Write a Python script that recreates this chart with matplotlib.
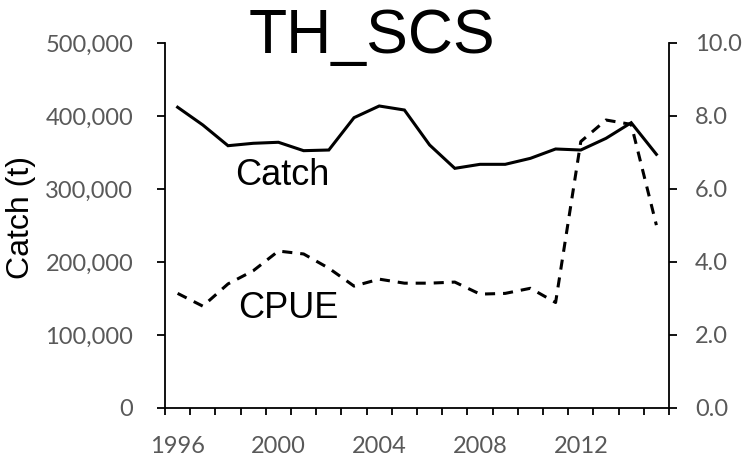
import matplotlib.pyplot as plt
from matplotlib.ticker import FuncFormatter, FixedLocator

# Catch and CPUE, TH_SCS, 1996-2015
years = list(range(1996, 2016))
catch = [412000, 387700, 359300, 362600, 364000, 352500, 353400, 397700, 413700, 408200,
         360300, 328300, 333800, 333800, 342000, 354800, 353400, 369400, 390800, 347500]
cpue = [3.14, 2.79, 3.40, 3.76, 4.30, 4.22, 3.83, 3.34, 3.53, 3.42,
        3.42, 3.45, 3.12, 3.14, 3.28, 2.89, 7.30, 7.89, 7.77, 5.01]
label_years = [1996, 2000, 2004, 2008, 2012]

tick_font = 'Lato'
tick_color = '#595959'

fig = plt.figure(figsize=(7.43, 4.55), dpi=100)
ax = fig.add_axes([0.2221, 0.1033, 0.6783, 0.8022])
ax2 = ax.twinx()

pos = list(range(len(years)))
ax.plot(pos, catch, color='black', lw=2.2, solid_joinstyle='miter')
ax2.plot(pos, cpue, color='black', lw=2.2, dashes=(3.3, 2.6), dash_capstyle='butt')

ax.set_xlim(-0.5, len(years) - 0.5)
ax.set_ylim(0, 500000)
ax2.set_ylim(0, 10)
ax.set_yticks(range(0, 500001, 100000))
ax2.set_yticks([0, 2, 4, 6, 8, 10])
ax.yaxis.set_major_formatter(FuncFormatter(lambda v, p: f'{v:,.0f}'))
ax2.yaxis.set_major_formatter(FuncFormatter(lambda v, p: f'{v:.1f}'))

# category boundaries carry tick marks, labels sit on the categories
ax.xaxis.set_major_locator(FixedLocator([p - 0.5 for p in range(len(years) + 1)]))
ax.xaxis.set_major_formatter(FuncFormatter(lambda v, p: ''))
ax.xaxis.set_minor_locator(FixedLocator([years.index(y) for y in label_years]))
ax.xaxis.set_minor_formatter(FuncFormatter(lambda v, p: str(years[int(round(v))])))

for a in (ax, ax2):
    a.spines['top'].set_visible(False)
    for s in a.spines.values():
        s.set_linewidth(1.3)
ax.spines['right'].set_visible(False)
ax2.spines['left'].set_visible(False)
ax2.spines['bottom'].set_visible(False)

ax.tick_params(axis='x', which='major', direction='out', length=5, width=1.3)
ax.tick_params(axis='x', which='minor', length=0, pad=20, labelsize=17, labelcolor=tick_color)
ax.tick_params(axis='y', direction='out', length=5.8, width=1.3, pad=17,
               labelsize=17, labelcolor=tick_color)
ax2.tick_params(axis='y', direction='out', length=5.8, width=1.3, pad=13,
                labelsize=17, labelcolor=tick_color)
for lab in ax.get_xticklabels(minor=True) + ax.get_yticklabels() + ax2.get_yticklabels():
    lab.set_fontfamily(tick_font)

fig.text(0.5, 0.985, 'TH_SCS', ha='center', va='top', fontsize=45, family='Liberation Sans')
fig.text(0.028, 0.523, 'Catch (t)', rotation=90, ha='center', va='center',
         fontsize=23, family='Liberation Sans')
ax.text(2.3, 305000, 'Catch', fontsize=26, family='Liberation Sans', va='baseline')
ax.text(2.4, 123000, 'CPUE', fontsize=26, family='Liberation Sans', va='baseline')

fig.savefig('out.png', dpi=100)
